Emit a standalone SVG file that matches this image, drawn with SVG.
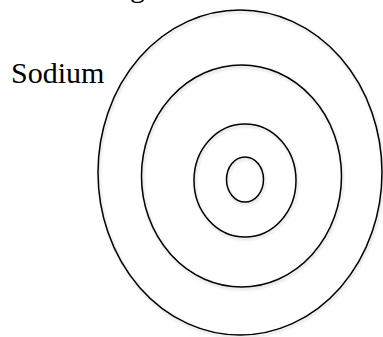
<svg xmlns="http://www.w3.org/2000/svg" width="383" height="337" viewBox="0 0 383 337">
<style>
.shell{fill:none;stroke:#000;stroke-width:1.5;filter:url(#sh)}
.lbl{font-family:"Liberation Serif","Times New Roman",serif;font-size:30px;fill:#000}
</style>
<defs>
<filter id="sh" x="-10%" y="-10%" width="120%" height="120%">
<feDropShadow dx="1" dy="2" stdDeviation="1.5" flood-color="#000" flood-opacity="0.18"/>
</filter>
</defs>
<rect width="383" height="337" fill="#fff"/>
<text class="lbl" x="130" y="-3">g</text>
<g id="label-sodium"><text class="lbl" x="11" y="83">Sodium</text></g>
<g id="shell-3"><ellipse class="shell" cx="240" cy="172.5" rx="142" ry="162.5"/></g>
<g id="shell-2"><ellipse class="shell" cx="241.5" cy="176" rx="100" ry="111"/></g>
<g id="shell-1"><ellipse class="shell" cx="245" cy="180.5" rx="51" ry="56.5"/></g>
<g id="nucleus"><ellipse class="shell" cx="245" cy="179.5" rx="18.5" ry="22.5"/></g>
<g id="connectors"></g>
</svg>
